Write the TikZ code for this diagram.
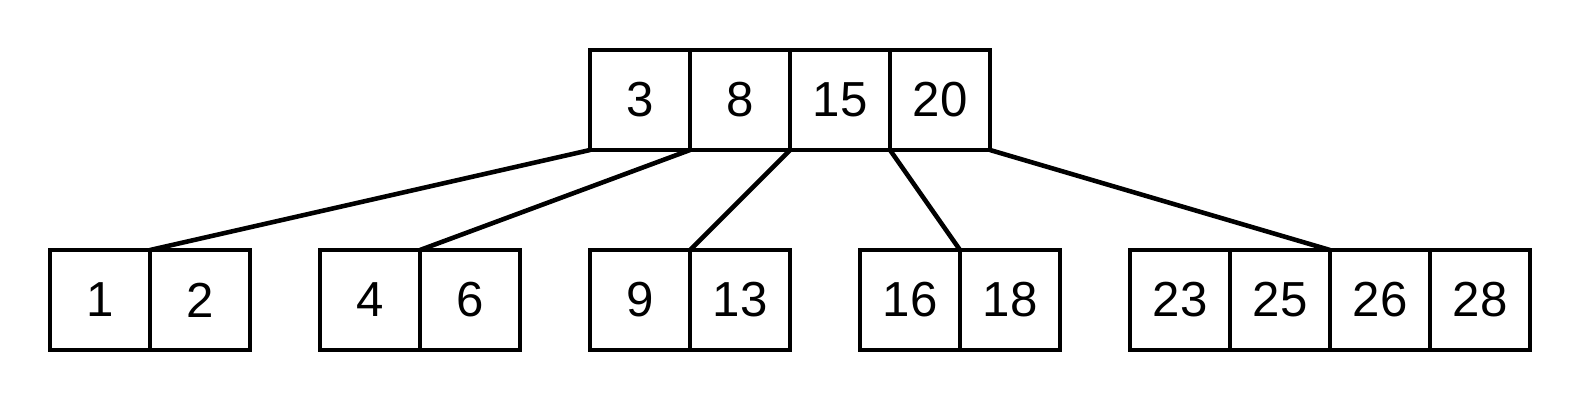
\documentclass[tikz,border=0pt]{standalone}
\usepackage{fontspec}
\setmainfont{Liberation Sans}
\begin{document}
\begin{tikzpicture}[
    every node/.style={draw, line width=1.3pt, minimum size=1cm, inner sep=0pt, outer sep=0pt,
        font=\fontsize{14}{16}\selectfont},
    edge/.style={line width=1.3pt}
]
\useasboundingbox (0,0) rectangle (15.8,4);
% Radice
\foreach \k/\v in {1/3, 2/8, 3/15, 4/20}
    \node (r\k) at (5.4+\k, 3) {\v};

% Foglie
\foreach \k/\v in {1/1, 2/2}
    \node (a\k) at (\k, 1) {\v};
\foreach \k/\v in {1/4, 2/6}
    \node (b\k) at (2.7+\k, 1) {\v};
\foreach \k/\v in {1/9, 2/13}
    \node (c\k) at (5.4+\k, 1) {\v};
\foreach \k/\v in {1/16, 2/18}
    \node (d\k) at (8.1+\k, 1) {\v};
\foreach \k/\v in {1/23, 2/25, 3/26, 4/28}
    \node (e\k) at (10.8+\k, 1) {\v};

% Puntatori
\draw[edge] (r1.south west) -- (a1.north east);
\draw[edge] (r1.south east) -- (b1.north east);
\draw[edge] (r2.south east) -- (c1.north east);
\draw[edge] (r3.south east) -- (d1.north east);
\draw[edge] (r4.south east) -- (e2.north east);
\end{tikzpicture}
\end{document}
